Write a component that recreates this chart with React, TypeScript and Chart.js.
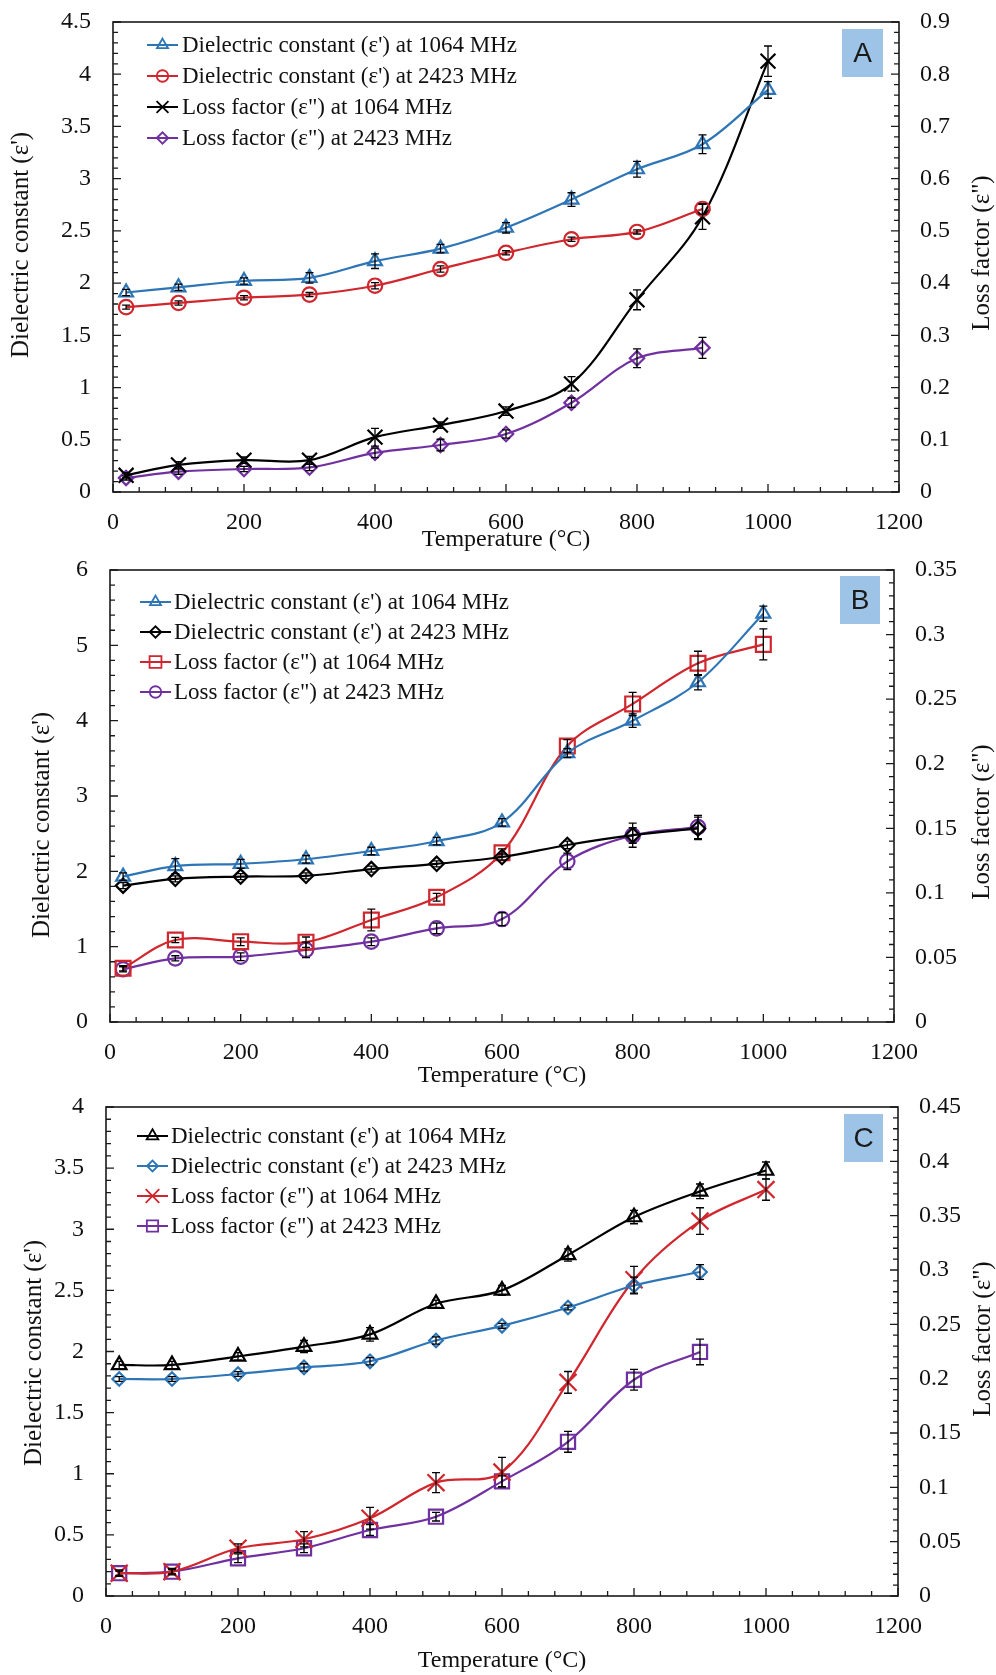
import React, { useEffect, useRef } from 'react';
import { Chart, registerables } from 'chart.js';

Chart.register(...registerables);

// ---------------- DATA ----------------
const TEMPS = [20, 100, 200, 300, 400, 500, 600, 700, 800, 900, 1000];

const X_MIN = 0;
const X_MAX = 1200;
const X_STEP = 200;

// Panel A
const A_EPS_1064 = [1.91, 1.96, 2.02, 2.05, 2.21, 2.33, 2.53, 2.8, 3.09, 3.33, 3.85];
const A_EPS_1064_ERR = [0.03, 0.03, 0.03, 0.05, 0.07, 0.04, 0.05, 0.065, 0.075, 0.09, 0.08];
const A_EPS_2423 = [1.77, 1.81, 1.86, 1.89, 1.975, 2.135, 2.29, 2.42, 2.49, 2.71];
const A_EPS_2423_ERR = [0.02, 0.02, 0.02, 0.02, 0.03, 0.03, 0.02, 0.02, 0.02, 0.05];
const A_LOSS_1064 = [0.032, 0.052, 0.061, 0.061, 0.105, 0.128, 0.155, 0.207, 0.368, 0.527, 0.825];
const A_LOSS_1064_ERR = [0.005, 0.006, 0.006, 0.007, 0.017, 0.006, 0.008, 0.014, 0.019, 0.024, 0.029];
const A_LOSS_2423 = [0.027, 0.039, 0.044, 0.047, 0.075, 0.09, 0.111, 0.171, 0.256, 0.276];
const A_LOSS_2423_ERR = [0.004, 0.005, 0.005, 0.006, 0.009, 0.011, 0.008, 0.009, 0.018, 0.02];
const A_LEFT_RANGE = [0, 4.5, 0.5];
const A_RIGHT_RANGE = [0, 0.9, 0.1];

// Panel B
const B_EPS_1064 = [1.93, 2.07, 2.1, 2.16, 2.27, 2.4, 2.65, 3.57, 4.0, 4.51, 5.42];
const B_EPS_1064_ERR = [0.05, 0.1, 0.06, 0.05, 0.05, 0.05, 0.05, 0.06, 0.09, 0.1, 0.1];
const B_EPS_2423 = [1.81, 1.9, 1.93, 1.94, 2.03, 2.1, 2.19, 2.35, 2.48, 2.57];
const B_EPS_2423_ERR = [0.04, 0.04, 0.04, 0.04, 0.04, 0.04, 0.04, 0.05, 0.16, 0.15];
const B_LOSS_1064 = [0.0416, 0.0635, 0.0622, 0.0618, 0.079, 0.0966, 0.131, 0.2137, 0.2463, 0.2778, 0.2924];
const B_LOSS_1064_ERR = [0.002, 0.002, 0.003, 0.004, 0.0084, 0.003, 0.003, 0.005, 0.009, 0.0093, 0.012];
const B_LOSS_2423 = [0.0408, 0.0493, 0.0506, 0.0558, 0.0622, 0.0725, 0.0797, 0.1244, 0.1444, 0.151];
const B_LOSS_2423_ERR = [0.002, 0.002, 0.003, 0.006, 0.003, 0.004, 0.005, 0.0064, 0.006, 0.009];
const B_LEFT_RANGE = [0, 6, 1];
const B_RIGHT_RANGE = [0, 0.35, 0.05];

// Panel C
const C_EPS_1064 = [1.89, 1.89, 1.96, 2.04, 2.14, 2.39, 2.5, 2.79, 3.1, 3.31, 3.48];
const C_EPS_1064_ERR = [0.03, 0.03, 0.03, 0.05, 0.055, 0.03, 0.04, 0.05, 0.055, 0.06, 0.07];
const C_EPS_2423 = [1.775, 1.775, 1.816, 1.87, 1.92, 2.09, 2.21, 2.36, 2.54, 2.65];
const C_EPS_2423_ERR = [0.02, 0.02, 0.02, 0.03, 0.03, 0.03, 0.02, 0.02, 0.068, 0.06];
const C_LOSS_1064 = [0.021, 0.0224, 0.0439, 0.0522, 0.0715, 0.1043, 0.114, 0.1966, 0.291, 0.345, 0.374];
const C_LOSS_1064_ERR = [0.003, 0.003, 0.004, 0.007, 0.01, 0.0092, 0.0135, 0.01, 0.0123, 0.0123, 0.0098];
const C_LOSS_2423 = [0.021, 0.0224, 0.0347, 0.0439, 0.0607, 0.073, 0.1055, 0.1419, 0.199, 0.2246];
const C_LOSS_2423_ERR = [0.002, 0.002, 0.004, 0.004, 0.005, 0.004, 0.005, 0.0096, 0.0096, 0.0118];
const C_LEFT_RANGE = [0, 4, 0.5];
const C_RIGHT_RANGE = [0, 0.45, 0.05];

const LBL_EPS_1064 = "Dielectric constant (ε') at 1064 MHz";
const LBL_EPS_2423 = "Dielectric constant (ε') at 2423 MHz";
const LBL_LOSS_1064 = 'Loss factor (ε") at 1064 MHz';
const LBL_LOSS_2423 = 'Loss factor (ε") at 2423 MHz';
const X_TITLE = 'Temperature (°C)';
const Y_TITLE = "Dielectric constant (ε')";
const Y2_TITLE = 'Loss factor (ε")';

// ---------------- STYLE ----------------
const SERIF = "'Liberation Serif', 'Times New Roman', serif";
const SANS = "'Liberation Sans', Arial, sans-serif";
const BLUE = '#2E75B6';
const RED = '#D0262D';
const PURPLE = '#7030A0';
const BLACK = '#000000';
const TEXT = '#111111';
const BOX = '#9DC3E6';
const PAGE_W = 996;

type Series = {
  label: string;
  values: number[];
  errs: number[];
  axis: 'y' | 'y2';
  color: string;
  style: string;
  radius: number;
};

type Panel = {
  top: number;
  height: number;
  area: { left: number; right: number; top: number; bottom: number };
  xH: number;
  left: number[];
  right: number[];
  series: Series[];
  letter: string;
  box: [number, number, number, number];
  legend: { l0: number; l1: number; tx: number; rows: number[] };
  yTitle: [number, number];
  y2Title: [number, number];
};

const PANELS: Panel[] = [
  {
    top: 0,
    height: 555,
    area: { left: 113, right: 899, top: 22, bottom: 492 },
    xH: 62,
    left: A_LEFT_RANGE,
    right: A_RIGHT_RANGE,
    series: [
      { label: LBL_EPS_1064, values: A_EPS_1064, errs: A_EPS_1064_ERR, axis: 'y', color: BLUE, style: 'triangle', radius: 8 },
      { label: LBL_EPS_2423, values: A_EPS_2423, errs: A_EPS_2423_ERR, axis: 'y', color: RED, style: 'circle', radius: 7.2 },
      { label: LBL_LOSS_1064, values: A_LOSS_1064, errs: A_LOSS_1064_ERR, axis: 'y2', color: BLACK, style: 'crossRot', radius: 10.5 },
      { label: LBL_LOSS_2423, values: A_LOSS_2423, errs: A_LOSS_2423_ERR, axis: 'y2', color: PURPLE, style: 'rectRot', radius: 7.2 },
    ],
    letter: 'A',
    box: [842, 29, 41, 48],
    legend: { l0: 34, l1: 65, tx: 69, rows: [23, 54, 85, 116] },
    yTitle: [21, 245],
    y2Title: [982, 253],
  },
  {
    top: 554,
    height: 538,
    area: { left: 110, right: 894, top: 570, bottom: 1022 },
    xH: 68,
    left: B_LEFT_RANGE,
    right: B_RIGHT_RANGE,
    series: [
      { label: LBL_EPS_1064, values: B_EPS_1064, errs: B_EPS_1064_ERR, axis: 'y', color: BLUE, style: 'triangle', radius: 8 },
      { label: LBL_EPS_2423, values: B_EPS_2423, errs: B_EPS_2423_ERR, axis: 'y', color: BLACK, style: 'rectRot', radius: 7.2 },
      { label: LBL_LOSS_1064, values: B_LOSS_1064, errs: B_LOSS_1064_ERR, axis: 'y2', color: RED, style: 'rect', radius: 10.5 },
      { label: LBL_LOSS_2423, values: B_LOSS_2423, errs: B_LOSS_2423_ERR, axis: 'y2', color: PURPLE, style: 'circle', radius: 7.2 },
    ],
    letter: 'B',
    box: [840, 576, 40, 48],
    legend: { l0: 30, l1: 61, tx: 64, rows: [32, 62, 92, 122] },
    yTitle: [42, 825],
    y2Title: [982, 822],
  },
  {
    top: 1092,
    height: 583,
    area: { left: 106, right: 898, top: 1107, bottom: 1596 },
    xH: 79,
    left: C_LEFT_RANGE,
    right: C_RIGHT_RANGE,
    series: [
      { label: LBL_EPS_1064, values: C_EPS_1064, errs: C_EPS_1064_ERR, axis: 'y', color: BLACK, style: 'triangle', radius: 8.4 },
      { label: LBL_EPS_2423, values: C_EPS_2423, errs: C_EPS_2423_ERR, axis: 'y', color: BLUE, style: 'rectRot', radius: 6.8 },
      { label: LBL_LOSS_1064, values: C_LOSS_1064, errs: C_LOSS_1064_ERR, axis: 'y2', color: RED, style: 'crossRot', radius: 12 },
      { label: LBL_LOSS_2423, values: C_LOSS_2423, errs: C_LOSS_2423_ERR, axis: 'y2', color: PURPLE, style: 'rect', radius: 10 },
    ],
    letter: 'C',
    box: [844, 1114, 39, 48],
    legend: { l0: 31, l1: 62, tx: 65, rows: [29, 59, 89, 119] },
    yTitle: [34, 1353],
    y2Title: [983, 1339],
  },
];

function drawMarker(ctx: CanvasRenderingContext2D, style: string, x: number, y: number, r: number, color: string, lw: number) {
  ctx.save();
  ctx.strokeStyle = color;
  ctx.lineWidth = lw;
  ctx.beginPath();
  const d = Math.SQRT1_2 * r;
  switch (style) {
    case 'triangle':
      ctx.moveTo(x, y - r);
      ctx.lineTo(x + 0.866 * r, y + 0.5 * r);
      ctx.lineTo(x - 0.866 * r, y + 0.5 * r);
      ctx.closePath();
      break;
    case 'circle':
      ctx.arc(x, y, r, 0, Math.PI * 2);
      break;
    case 'rectRot':
      ctx.moveTo(x - r, y);
      ctx.lineTo(x, y - r);
      ctx.lineTo(x + r, y);
      ctx.lineTo(x, y + r);
      ctx.closePath();
      break;
    case 'rect':
      ctx.rect(x - d, y - d, 2 * d, 2 * d);
      break;
    case 'crossRot':
      ctx.moveTo(x - d, y - d);
      ctx.lineTo(x + d, y + d);
      ctx.moveTo(x + d, y - d);
      ctx.lineTo(x - d, y + d);
      break;
  }
  ctx.stroke();
  ctx.restore();
}

function fmt(v: number) {
  return String(+Number(v).toFixed(4));
}

function makePlugin(panel: Panel) {
  const off = panel.top;
  return {
    id: 'panelDecor' + panel.letter,
    afterDatasetsDraw(chart: any) {
      const ctx: CanvasRenderingContext2D = chart.ctx;
      const xs = chart.scales.x;
      panel.series.forEach((s) => {
        const ys = chart.scales[s.axis];
        ctx.save();
        ctx.strokeStyle = '#000';
        ctx.lineWidth = 1.3;
        s.values.forEach((v, j) => {
          const e = s.errs[j] || 0;
          const px = xs.getPixelForValue(TEMPS[j]);
          const p1 = ys.getPixelForValue(v + e);
          const p2 = ys.getPixelForValue(v - e);
          ctx.beginPath();
          ctx.moveTo(px, p1);
          ctx.lineTo(px, p2);
          ctx.moveTo(px - 4, p1);
          ctx.lineTo(px + 4, p1);
          ctx.moveTo(px - 4, p2);
          ctx.lineTo(px + 4, p2);
          ctx.stroke();
        });
        ctx.restore();
      });
    },
    afterDraw(chart: any) {
      const ctx: CanvasRenderingContext2D = chart.ctx;
      const a = chart.chartArea;
      ctx.save();
      // ticks (inside)
      ctx.strokeStyle = '#1a1a1a';
      ctx.lineWidth = 1.3;
      const drawTicks = (scale: any, min: number, max: number, major: number, side: string) => {
        const minor = major / 5;
        const n = Math.round((max - min) / minor);
        ctx.beginPath();
        for (let i = 0; i <= n; i++) {
          const v = min + i * minor;
          const len = i % 5 === 0 ? 8 : 5;
          const p = scale.getPixelForValue(v);
          if (side === 'bottom') {
            ctx.moveTo(p, a.bottom);
            ctx.lineTo(p, a.bottom - len);
          } else if (side === 'left') {
            ctx.moveTo(a.left, p);
            ctx.lineTo(a.left + len, p);
          } else {
            ctx.moveTo(a.right, p);
            ctx.lineTo(a.right - len, p);
          }
        }
        ctx.stroke();
      };
      drawTicks(chart.scales.x, X_MIN, X_MAX, X_STEP, 'bottom');
      drawTicks(chart.scales.y, panel.left[0], panel.left[1], panel.left[2], 'left');
      drawTicks(chart.scales.y2, panel.right[0], panel.right[1], panel.right[2], 'right');
      // frame
      ctx.lineWidth = 1.6;
      ctx.strokeRect(a.left, a.top, a.right - a.left, a.bottom - a.top);

      // legend
      const lg = panel.legend;
      panel.series.forEach((s, i) => {
        const y = a.top + lg.rows[i];
        ctx.strokeStyle = s.color;
        ctx.lineWidth = 2;
        ctx.beginPath();
        ctx.moveTo(a.left + lg.l0, y);
        ctx.lineTo(a.left + lg.l1, y);
        ctx.stroke();
        drawMarker(ctx, s.style, a.left + (lg.l0 + lg.l1) / 2, y, s.radius * 0.8, s.color, 1.8);
        ctx.fillStyle = TEXT;
        ctx.font = `23px ${SERIF}`;
        ctx.textAlign = 'left';
        ctx.textBaseline = 'middle';
        ctx.fillText(s.label, a.left + lg.tx, y + 1);
      });

      // letter box
      const [bx, by, bw, bh] = panel.box;
      ctx.fillStyle = BOX;
      ctx.fillRect(bx, by - off, bw, bh);
      ctx.fillStyle = '#1a1a1a';
      ctx.font = `28px ${SANS}`;
      ctx.textAlign = 'center';
      ctx.textBaseline = 'middle';
      ctx.fillText(panel.letter, bx + bw / 2, by - off + bh / 2 + 1);

      // vertical axis titles (both read bottom-to-top)
      ctx.font = `25px ${SERIF}`;
      ctx.fillStyle = TEXT;
      const vtext = (t: string, x: number, y: number) => {
        ctx.save();
        ctx.translate(x, y - off);
        ctx.rotate(-Math.PI / 2);
        ctx.textAlign = 'center';
        ctx.textBaseline = 'middle';
        ctx.fillText(t, 0, 0);
        ctx.restore();
      };
      vtext(Y_TITLE, panel.yTitle[0], panel.yTitle[1]);
      vtext(Y2_TITLE, panel.y2Title[0], panel.y2Title[1]);
      ctx.restore();
    },
  };
}

function PanelChart({ panel }: { panel: Panel }) {
  const ref = useRef<HTMLCanvasElement | null>(null);
  useEffect(() => {
    if (!ref.current) return;
    const ar = panel.area;
    const padTop = ar.top - panel.top;
    const padBottom = panel.height - (ar.bottom - panel.top) - panel.xH;
    const tickFont = { family: SERIF, size: 24 };
    const chart = new Chart(ref.current, {
      type: 'line',
      data: {
        datasets: panel.series.map((s) => ({
          label: s.label,
          data: s.values.map((v, i) => ({ x: TEMPS[i], y: v })),
          yAxisID: s.axis,
          borderColor: s.color,
          backgroundColor: 'rgba(0,0,0,0)',
          borderWidth: 2.2,
          tension: 0.35,
          fill: false,
          pointStyle: s.style as any,
          pointRadius: s.radius,
          pointHoverRadius: s.radius,
          pointBorderWidth: 2.2,
          pointBorderColor: s.color,
          pointBackgroundColor: 'rgba(255,255,255,0)',
        })),
      },
      options: {
        responsive: false,
        animation: false,
        events: [],
        layout: { padding: { top: padTop, bottom: padBottom, left: 0, right: 0 } },
        plugins: {
          legend: { display: false },
          tooltip: { enabled: false },
          title: { display: false },
        },
        scales: {
          x: {
            type: 'linear',
            position: 'bottom',
            min: X_MIN,
            max: X_MAX,
            grid: { display: false, drawTicks: true, tickLength: 16 },
            border: { display: false },
            ticks: {
              stepSize: X_STEP,
              autoSkip: false,
              maxRotation: 0,
              padding: 0,
              font: tickFont,
              color: TEXT,
              callback: (v: any) => fmt(v),
            },
            title: { display: true, text: X_TITLE, font: { family: SERIF, size: 24 }, color: TEXT, padding: 0 },
            afterFit: (s: any) => {
              s.height = panel.xH;
            },
          },
          y: {
            type: 'linear',
            position: 'left',
            min: panel.left[0],
            max: panel.left[1],
            grid: { display: false, drawTicks: true, tickLength: 22 },
            border: { display: false },
            ticks: {
              stepSize: panel.left[2],
              autoSkip: false,
              padding: 0,
              font: tickFont,
              color: TEXT,
              callback: (v: any) => fmt(v),
            },
            afterFit: (s: any) => {
              s.width = ar.left;
            },
          },
          y2: {
            type: 'linear',
            position: 'right',
            min: panel.right[0],
            max: panel.right[1],
            grid: { display: false, drawTicks: true, tickLength: 21 },
            border: { display: false },
            ticks: {
              stepSize: panel.right[2],
              autoSkip: false,
              padding: 0,
              font: tickFont,
              color: TEXT,
              callback: (v: any) => fmt(v),
            },
            afterFit: (s: any) => {
              s.width = PAGE_W - ar.right;
            },
          },
        },
      } as any,
      plugins: [makePlugin(panel)],
    });
    return () => chart.destroy();
  }, [panel]);
  return (
    <canvas
      ref={ref}
      width={PAGE_W}
      height={panel.height}
      style={{ position: 'absolute', left: 0, top: panel.top, width: PAGE_W, height: panel.height, display: 'block' }}
    />
  );
}

export default function App() {
  return (
    <div style={{ position: 'absolute', left: 0, top: 0, width: PAGE_W, height: 1675, background: '#fff', overflow: 'hidden' }}>
      {PANELS.map((p) => (
        <PanelChart key={p.letter} panel={p} />
      ))}
    </div>
  );
}
